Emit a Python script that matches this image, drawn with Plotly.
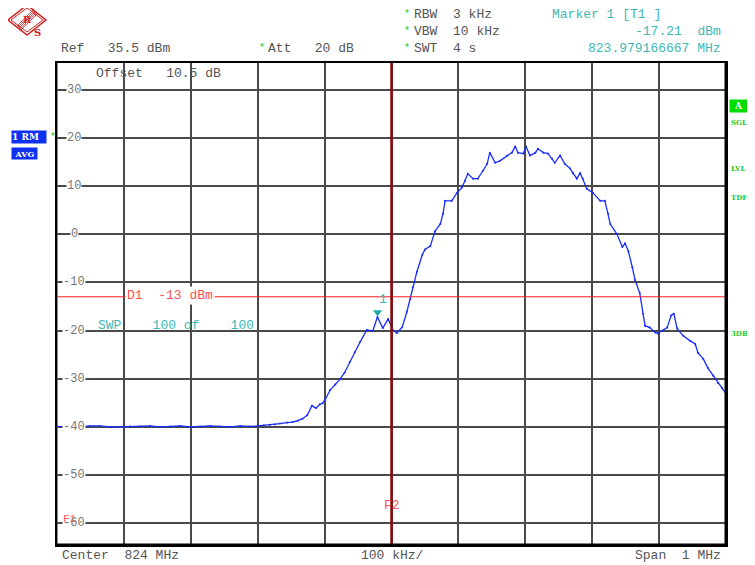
import plotly.graph_objs as go

# Spectrum analyzer trace (RM AVG), frequency in MHz, level in dBm
freq_mhz = [
    823.500, 823.517, 823.534, 823.549, 823.564, 823.579, 823.594, 823.609,
    823.624, 823.639, 823.654, 823.669, 823.684, 823.699, 823.714, 823.729,
    823.744, 823.759, 823.774, 823.787, 823.800, 823.809, 823.818, 823.826,
    823.833, 823.844, 823.852, 823.860, 823.867, 823.874, 823.881, 823.887,
    823.893, 823.897, 823.901, 823.908, 823.916, 823.923, 823.930, 823.938,
    823.945, 823.953, 823.963, 823.972, 823.979, 823.987, 823.995, 824.002,
    824.008, 824.016, 824.023, 824.028, 824.032, 824.038, 824.046, 824.050,
    824.058, 824.065, 824.073, 824.077, 824.080, 824.090, 824.098, 824.105,
    824.110, 824.114, 824.122, 824.129, 824.137, 824.143, 824.147, 824.155,
    824.162, 824.173, 824.180, 824.185, 824.189, 824.197, 824.201, 824.207,
    824.215, 824.219, 824.227, 824.234, 824.240, 824.244, 824.252, 824.259,
    824.267, 824.271, 824.277, 824.282, 824.286, 824.292, 824.301, 824.312,
    824.319, 824.324, 824.327, 824.337, 824.345, 824.349, 824.354, 824.360,
    824.364, 824.371, 824.376, 824.379, 824.386, 824.394, 824.398, 824.406,
    824.412, 824.418, 824.422, 824.427, 824.436, 824.446, 824.454, 824.458,
    824.466, 824.473, 824.481, 824.488, 824.494, 824.500,
]
level_dbm = [
    -39.9, -40.1, -40.0, -39.8, -39.8, -40.0, -40.0, -39.9,
    -39.9, -39.8, -40.0, -39.9, -39.8, -40.0, -39.9, -39.8,
    -39.9, -40.0, -39.8, -39.9, -39.8, -39.7, -39.6, -39.5,
    -39.3, -39.1, -39.0, -38.7, -38.3, -37.6, -35.6, -36.1,
    -35.3, -35.1, -34.3, -32.4, -31.2, -30.1, -28.7, -26.5,
    -24.5, -22.4, -19.9, -20.1, -17.21, -19.5, -17.6, -19.9,
    -20.5, -19.3, -16.1, -13.5, -11.0, -7.8, -4.3, -3.2,
    -2.5, 0.6, 2.1, 4.2, 6.9, 6.9, 8.6, 9.6,
    11.1, 12.5, 11.5, 11.5, 13.2, 14.6, 16.9, 14.8,
    15.2, 16.3, 16.9, 18.2, 16.9, 16.7, 18.2, 16.3,
    16.9, 17.7, 16.9, 16.7, 15.7, 14.8, 16.3, 14.6,
    13.6, 12.7, 11.5, 12.7, 11.5, 9.4, 8.6, 6.9,
    6.9, 4.2, 2.1, 0.0, -2.7, -1.9, -3.5, -6.9,
    -9.5, -12.2, -16.5, -19.0, -19.4, -20.4, -20.6, -20.0,
    -19.4, -16.9, -16.5, -19.6, -21.1, -22.1, -22.8, -24.6,
    -25.9, -27.8, -29.4, -30.9, -31.9, -33.1,
]

y_ticks = [30, 20, 10, 0, -10, -20, -30, -40, -50, -60]
marker_freq = 823.979166667
marker_level = -17.21
d1_level = -13
f1_freq = 823.5
f2_freq = 824.0

mono = "Liberation Mono"
grey = "#555555"
teal = "#3cb8b8"
green = "#22cc22"

# the page body has an 8px margin, so the figure is drawn 8px smaller
# and every position below is given in the reference's pixel coordinates
PAGE = 8
W, H = 755 - PAGE, 565 - PAGE
X0, X1, Y0, Y1 = 57, 726, 63, 545


def px(x):
    return (x - X0) / (X1 - X0)


def py(y):
    return (Y1 - y) / (Y1 - Y0)


def text(x, y, s, color=grey, anchor="left", size=13, **kw):
    return dict(x=px(x), y=py(y), xref="paper", yref="paper", text=s,
                showarrow=False, xanchor=anchor, yanchor="middle",
                font=dict(family=mono, size=size, color=color), **kw)


trace = go.Scatter(
    x=freq_mhz, y=level_dbm, mode="lines+markers",
    line=dict(color="#1a2cff", width=1.3),
    marker=dict(color="#1a2cff", size=2),
    hoverinfo="skip"
)
marker = go.Scatter(
    x=[marker_freq], y=[marker_level + 1.0], mode="markers",
    marker=dict(symbol="triangle-down", size=8, color="#20a8a8"),
    hoverinfo="skip"
)

annotations = []
for v in y_ticks:
    annotations.append(dict(
        x=px(74), y=v, xref="paper", yref="y", text=str(v), showarrow=False,
        xanchor="center", yanchor="middle", bgcolor="white", borderpad=0,
        font=dict(family=mono, size=12, color="#777777")))

annotations += [
    text(59, 48, "Ref   35.5 dBm"),
    text(257, 48, "*", color=green, size=10),
    text(266, 48, "Att   20 dB"),
    text(402, 15, "*", color=green, size=10),
    text(412, 15, "RBW  3 kHz"),
    text(402, 31, "*", color=green, size=10),
    text(412, 31, "VBW  10 kHz"),
    text(402, 48, "*", color=green, size=10),
    text(412, 48, "SWT  4 s"),
    text(550, 15, "Marker 1 [T1 ]", color=teal),
    text(723, 31, "-17.21  dBm", color=teal, anchor="right"),
    text(723, 48, "823.979166667 MHz", color=teal, anchor="right"),
    text(94, 73, "Offset   10.5 dB"),
    text(96, 325, "SWP    100 of    100", color=teal),
    text(377, 299, "1", color=teal),
    text(125, 295, "D1  -13 dBm", color="#ff5050", bgcolor="white"),
    text(392, 505, "F2", color="#ff5050", anchor="center"),
    text(61, 519, "F1", color="#ff5050", size=11),
    text(60, 555, "Center  824 MHz"),
    text(392, 555, "100 kHz/", anchor="center"),
    text(723, 555, "Span  1 MHz", anchor="right"),
    text(48, 137, "*", color=green, size=10),
    dict(x=px(11), y=py(137), xref="paper", yref="paper", text="<b>1 RM</b>",
         showarrow=False, xanchor="left", yanchor="middle", bgcolor="#1030f0",
         width=34, height=12, align="left", borderpad=0,
         font=dict(family="DejaVu Serif", size=9, color="white")),
    dict(x=px(11), y=py(153), xref="paper", yref="paper", text="<b>AVG</b>",
         showarrow=False, xanchor="left", yanchor="middle", bgcolor="#1030f0",
         width=25, height=11, borderpad=0,
         font=dict(family="DejaVu Serif", size=8, color="white")),
    dict(x=px(729), y=py(106), xref="paper", yref="paper", text="<b>A</b>",
         showarrow=False, xanchor="left", yanchor="middle", bgcolor="#00dd00",
         width=17, height=12, borderpad=0,
         font=dict(family="DejaVu Serif", size=9, color="white")),
]
for label, yy in [("SGL", 122), ("LVL", 168), ("TDF", 197), ("3DB", 333)]:
    annotations.append(dict(
        x=px(729), y=py(yy), xref="paper", yref="paper", text="<b>%s</b>" % label,
        showarrow=False, xanchor="left", yanchor="middle",
        font=dict(family="DejaVu Serif", size=7, color=green)))

# R&S logo letters
annotations += [
    dict(x=px(21), y=py(12), xref="paper", yref="paper", text="<b>R</b>",
         showarrow=False, font=dict(family="DejaVu Serif", size=10, color="#d02020")),
    dict(x=px(32), y=py(25), xref="paper", yref="paper", text="<b>S</b>",
         showarrow=False, font=dict(family="DejaVu Serif", size=10, color="#d02020")),
]


def diamond(cx, cy, hw, hh):
    pts = [(cx - hw, cy), (cx, cy - hh), (cx + hw, cy), (cx, cy + hh)]
    return "M " + " L ".join("%f,%f" % (px(a), py(b)) for a, b in pts) + " Z"


shapes = [
    dict(type="path", xref="paper", yref="paper", path=diamond(27, 20, 19, 15),
         line=dict(color="#d02020", width=1.5)),
    dict(type="path", xref="paper", yref="paper", path=diamond(27, 20, 16, 12),
         line=dict(color="#d02020", width=1)),
]
for k in range(-2, 3):
    shapes.append(dict(type="line", xref="paper", yref="paper",
                       x0=px(18 + k), y0=py(29 + k), x1=px(36 + k), y1=py(11 + k),
                       line=dict(color="#d02020", width=0.8)))

shapes += [
    # display line D1
    dict(type="line", xref="paper", yref="y", x0=0, x1=1, y0=d1_level, y1=d1_level,
         line=dict(color="#ff2020", width=1)),
    # frequency lines
    dict(type="line", xref="x", yref="paper", x0=f2_freq, x1=f2_freq, y0=0, y1=1,
         line=dict(color="#8b0a0a", width=2.5)),
    dict(type="line", xref="x", yref="paper", x0=f1_freq, x1=f1_freq, y0=0, y1=1,
         line=dict(color="#ff2020", width=1.5)),
    # heavier right and bottom frame
    dict(type="line", xref="paper", yref="paper", x0=1, x1=1, y0=0, y1=1,
         line=dict(color="black", width=3)),
    dict(type="line", xref="paper", yref="paper", x0=0, x1=1, y0=0, y1=0,
         line=dict(color="black", width=3)),
]

layout = go.Layout(
    width=W, height=H,
    margin=dict(l=X0 - PAGE, r=W - (X1 - PAGE), t=Y0 - PAGE, b=H - (Y1 - PAGE)),
    paper_bgcolor="white", plot_bgcolor="white",
    showlegend=False,
    xaxis=dict(range=[823.5, 824.5], tick0=823.5, dtick=0.1, showticklabels=False,
               showgrid=True, gridcolor="#4a4a4a", gridwidth=1.5, zeroline=False,
               showline=True, mirror=True, linecolor="black", linewidth=2, ticks=""),
    yaxis=dict(range=[-64.5, 35.5], tick0=-60, dtick=10, showticklabels=False,
               showgrid=True, gridcolor="#4a4a4a", gridwidth=1.5, zeroline=False,
               showline=True, mirror=True, linecolor="black", linewidth=2, ticks=""),
    annotations=annotations,
    shapes=shapes,
)

fig = go.Figure(data=[trace, marker], layout=layout)
fig.write_html("out.html")
